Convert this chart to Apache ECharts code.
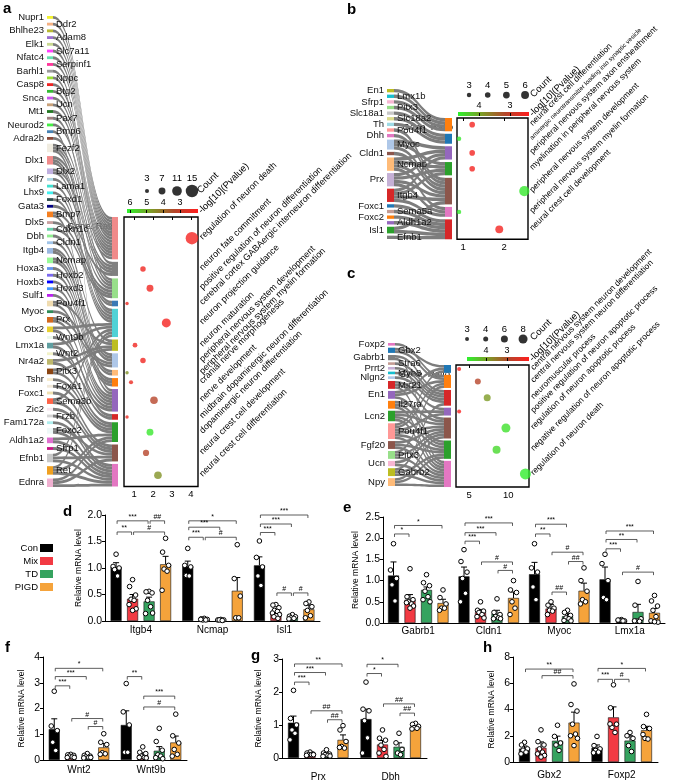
<!DOCTYPE html>
<html><head><meta charset="utf-8">
<script src="https://cdn.jsdelivr.net/npm/echarts@6/dist/echarts.min.js"></script>
<style>html,body{margin:0;padding:0;background:#fff}#c{width:685px;height:782px}</style>
</head><body><div id="c"></div>
<script>
const FONT = "'Liberation Sans', Arial, Helvetica, sans-serif";
const groups = ['Con', 'Mix', 'TD', 'PIGD'];
const groupColors = ['#000000', '#f23a43', '#35a35f', '#f5a33b'];
const heatColors = ['#ff1e1e', '#b4462b', '#7c9c26', '#2ef22e']; // low -> high -log10(P)

// ---------------- panel a ----------------
const aGenes = ['Nupr1','Ddr2','Bhlhe23','Adam8','Elk1','Slc7a11','Nfatc4','Serpinf1','Barhl1','Nppc','Casp8','Btg2','Snca','Ucn','Mt1','Pax7','Neurod2','Bmp6','Adra2b','Fezf2','Dlx1','Dlx2','Klf7','Lama1','Lhx9','Foxd1','Gata3','Bmp7','Dlx5','Cdkn1c','Dbh','Cldn1','Itgb4','Ncmap','Hoxa3','Hoxb2','Hoxb3','Hoxd3','Sulf1','Pou4f1','Myoc','Prx','Otx2','Wnt9b','Lmx1a','Wnt2','Nr4a2','Pitx3','Tshr','Foxa1','Foxc1','Sema3b','Zic2','Frzb','Fam172a','Foxc2','Aldh1a2','Sfrp1','Efnb1','Ret','Ednra'];
const aGeneTerms = [[1],[1],[1],[1],[1],[1],[1],[1],[2],[3],
  [1],[1],[1],[1],[1],[3],[1],[10],[1],[2,3,5],
  [2,4,5],[2,4],[3],[5],[5],[5],[2],[3,10],[3],[3],
  [6],[7],[7,8],[7,8],[9],[9],[9],[10],[10],[6,10],
  [7],[7,10],[5,11],[10],[5,11],[10],[6,12],[6,12],[12],[12],
  [13],[5,13],[13],[14],[14],[13,14],[12,14],[14],[5,13,14],[5,12,14],[12,13,14]];
const aTerms = ['regulation of neuron death','neuron fate commitment','positive regulation of neuron differentiation','cerebral cortex GABAergic interneuron differentiation','neuron projection guidance','neuron maturation','peripheral nervous system development','peripheral nervous system myelin formation','cranial nerve morphogenesis','nerve development','midbrain dopaminergic neuron differentiation','dopaminergic neuron differentiation','neural crest cell development','neural crest cell differentiation'];
const aCounts = [15, 5, 7, 2, 10, 4, 5, 2, 3, 8, 2, 7, 6, 8];
const aRatio = [4.05, 1.47, 1.84, 0.63, 2.7, 1.05, 1.47, 0.63, 0.84, 2.05, 0.63, 1.84, 1.63, 2.26];
const aLogP = [2.1, 2.2, 2.2, 2.3, 2.1, 2.2, 2.2, 4.6, 2.3, 3.3, 2.3, 6.0, 3.3, 4.6];
const aSizeTicks = [3, 7, 11, 15];
const aColorTicks = [3, 4, 5, 6];
const aXTicks = [1, 2, 3, 4];

// ---------------- panel b ----------------
const bGenes = ['En1','Lmx1b','Sfrp1','Pitx3','Slc18a1','Slc18a2','Th','Pou4f1','Dhh','Myoc','Cldn1','Ncmap','Prx','Itgb4','Foxc1','Sema5a','Foxc2','Aldh1a2','Isl1','Efnb1'];
const bGeneTerms = [[1],[1],[1],[1],[2],[2],[2],[5],[5],[3,4,5],[5],[3,4,5,6],[3,4,5,6],[3,4,5,6],[7],[7],[7],[7],[5,7],[7]];
const bTerms = ['neural crest cell differentiation','aminergic neurotransmitter loading into synaptic vesicle','peripheral nervous system axon ensheathment','myelination in peripheral nervous system','peripheral nervous system development','peripheral nervous system myelin formation','neural crest cell development'];
const bCounts = [4, 3, 4, 4, 8, 3, 6];
const bRatio = [1.22, 0.9, 1.22, 1.22, 2.49, 0.9, 1.88];
const bLogP = [2.5, 4.6, 2.5, 2.5, 4.6, 4.6, 2.5];
const bSizeTicks = [3, 4, 5, 6];
const bColorTicks = [3, 4];
const bXTicks = [1, 2];

// ---------------- panel c ----------------
const cGenes = ['Foxp2','Gbx2','Gabrb1','Stra6','Prrt2','Myh8','Nlgn2','Mir21','En1','Il27ra','Lcn2','Pou4f1','Fgf20','Pitx3','Ucn','Gabrb2','Npy'];
const cGeneTerms = [[2],[1,2],[3,7],[3],[3],[3],[3],[4,5,7],[1,2,6],[5,6,7],[4,5,6,7],[1,2,4,5,6,7],[5,6,7],[2,5,7],[5,7],[3,6,7],[5,6,7]];
const cTerms = ['central nervous system neuron development','central nervous system neuron differentiation','neuromuscular process','positive regulation of neuron apoptotic process','regulation of neuron apoptotic process','negative regulation of neuron apoptotic process','regulation of neuron death'];
const cCounts = [3, 5, 6, 3, 8, 7, 10];
const cRatio = [3.7, 6.1, 7.3, 3.7, 9.7, 8.5, 12.2];
const cLogP = [2.0, 2.9, 3.9, 2.0, 4.7, 4.6, 4.85];
const cSizeTicks = [3, 4, 6, 8];
const cColorTicks = [3, 4];
const cXTicks = [5, 10];

// ---------------- panel d ----------------
const dGenes = ['Itgb4', 'Ncmap', 'Isl1'];
const dMean = [[1.02, 1.03, 1.05], [0.42, 0.03, 0.17], [0.37, 0.02, 0.07], [1.07, 0.57, 0.22]];
const dSem = [[0.08, 0.1, 0.16], [0.08, 0.01, 0.03], [0.08, 0.01, 0.01], [0.15, 0.25, 0.08]];
const dPts = [
  [[1.26, 1.03, 1.0, 0.97, 0.85], [0.78, 0.65, 0.49, 0.41, 0.39, 0.31, 0.23, 0.2], [0.56, 0.55, 0.53, 0.39, 0.27, 0.14, 0.15], [1.56, 1.3, 1.05, 0.98, 0.94, 0.58]],
  [[1.37, 1.05, 1.02, 0.86, 0.85], [0.05, 0.04, 0.03, 0.02, 0.02, 0.03], [0.03, 0.02, 0.02, 0.02, 0.01], [1.44, 0.8, 0.47, 0.06, 0.06]],
  [[1.51, 1.2, 1.02, 0.85, 0.67], [0.31, 0.3, 0.25, 0.2, 0.18, 0.15, 0.12, 0.1, 0.08, 0.05], [0.12, 0.09, 0.08, 0.06, 0.05, 0.04], [0.36, 0.33, 0.27, 0.2, 0.1, 0.06]]
];
const dSig = [[0,0,2,1.89,'***'],[0,2,3,1.89,'##'],[0,0,1,1.68,'**'],[0,1,3,1.68,'#'],
  [1,0,3,1.89,'*'],[1,0,2,1.77,'***'],[1,0,1,1.58,'***'],[1,1,3,1.58,'#'],
  [2,0,3,2.0,'***'],[2,0,2,1.83,'***'],[2,0,1,1.67,'***'],[2,1,2,0.53,'#'],[2,2,3,0.53,'#']];

// ---------------- panel e ----------------
const eGenes = ['Gabrb1', 'Cldn1', 'Myoc', 'Lmx1a'];
const eMean = [[1.12, 1.10, 1.15, 1.03], [0.55, 0.26, 0.34, 0.06], [0.78, 0.22, 0.16, 0.26], [0.47, 0.59, 0.76, 0.24]];
const eSem = [[0.32, 0.22, 0.28, 0.29], [0.12, 0.06, 0.1, 0.01], [0.07, 0.08, 0.06, 0.18], [0.09, 0.14, 0.18, 0.1]];
const ePts = [
  [[1.87, 1.25, 1.05, 0.9, 0.52], [1.28, 0.62, 0.55, 0.5, 0.45, 0.48, 0.4, 0.35], [1.14, 0.95, 0.88, 0.75, 0.62, 0.55, 0.5], [0.78, 0.6, 0.45, 0.35, 0.35, 0.3]],
  [[1.73, 1.45, 1.2, 1.05, 0.7, 0.5], [0.5, 0.3, 0.28, 0.25, 0.2, 0.15, 0.12], [0.57, 0.25, 0.2, 0.15, 0.12, 0.1, 0.1], [1.0, 0.78, 0.72, 0.5, 0.35, 0.2]],
  [[1.87, 1.3, 1.2, 0.85, 0.55], [0.5, 0.42, 0.35, 0.3, 0.28, 0.2], [0.3, 0.25, 0.18, 0.12, 0.1, 0.06, 0.05], [1.3, 1.0, 0.75, 0.55, 0.5, 0.45]],
  [[1.62, 1.4, 1.0, 0.6, 0.55], [0.08, 0.06, 0.05, 0.06, 0.05, 0.07], [0.98, 0.42, 0.1, 0.05, 0.04, 0.05], [0.65, 0.52, 0.4, 0.3, 0.15, 0.05, 0.02, 0.03]]
];
const eSig = [[0,0,1,2.1,'*'],[0,0,3,2.3,'*'],
  [1,0,1,1.93,'***'],[1,0,2,2.13,'***'],[1,0,3,2.36,'***'],[1,1,3,1.44,'#'],[1,2,3,1.24,'#'],
  [2,0,2,2.33,'***'],[2,0,1,2.1,'**'],[2,1,3,1.67,'#'],[2,2,3,1.45,'##'],[2,1,2,0.73,'##'],
  [3,0,3,2.17,'***'],[3,0,2,1.97,'**'],[3,0,1,1.75,'***'],[3,1,3,1.2,'#']];

// ---------------- panel f ----------------
const fGenes = ['Wnt2', 'Wnt9b'];
const fMean = [[1.2, 1.36], [0.15, 0.2], [0.14, 0.36], [0.49, 0.68]];
const fSem = [[0.4, 0.55], [0.03, 0.08], [0.03, 0.16], [0.15, 0.25]];
const fPts = [
  [[2.67, 1.32, 1.14, 0.69, 0.37], [0.22, 0.2, 0.18, 0.15, 0.12, 0.1, 0.1], [0.25, 0.18, 0.15, 0.12, 0.1, 0.08, 0.1], [1.02, 0.69, 0.6, 0.28, 0.24, 0.22]],
  [[2.97, 1.87, 1.36, 0.3, 0.3], [0.51, 0.3, 0.25, 0.15, 0.1, 0.1, 0.08], [1.23, 0.72, 0.38, 0.2, 0.15, 0.09, 0.05], [1.78, 0.94, 0.66, 0.41, 0.22, 0.15]]
];
const fSig = [[0,0,3,3.56,'*'],[0,0,2,3.24,'***'],[0,0,1,2.88,'***'],[0,1,3,1.61,'#'],[0,2,3,1.3,'#'],
  [1,0,1,3.24,'**'],[1,1,3,2.48,'***'],[1,1,3,2.06,'#']];

// ---------------- panel g ----------------
const gGenes = ['Prx', 'Dbh'];
const gMean = [[1.07, 1.18], [0.12, 0.41], [0.12, 0.34], [0.55, 0.95]];
const gSem = [[0.2, 0.3], [0.02, 0.12], [0.03, 0.12], [0.15, 0.05]];
const gPts = [
  [[2.05, 1.2, 1.0, 0.85, 0.75, 0.55], [0.18, 0.15, 0.12, 0.1, 0.1, 0.08, 0.1], [0.25, 0.15, 0.12, 0.1, 0.08, 0.05, 0.06], [0.98, 0.85, 0.5, 0.35, 0.3, 0.32]],
  [[2.3, 1.48, 1.43, 1.13, 0.61, 0.15], [0.85, 0.6, 0.54, 0.39, 0.26, 0.15, 0.05], [0.75, 0.46, 0.26, 0.15, 0.1], [1.05, 1.02, 0.96, 0.92, 0.9, 0.88]]
];
const gSig = [[0,0,3,2.85,'**'],[0,0,2,2.59,'***'],[0,0,1,2.3,'***'],[0,1,3,1.43,'##'],[0,2,3,1.16,'##'],
  [1,0,2,2.84,'*'],[1,0,1,2.56,'*'],[1,1,3,1.64,'##'],[1,2,3,1.36,'##']];

// ---------------- panel h ----------------
const hGenes = ['Gbx2', 'Foxp2'];
const hMean = [[1.02, 1.08], [1.08, 3.4], [1.62, 1.63], [3.0, 2.42]];
const hSem = [[0.2, 0.22], [0.45, 0.8], [0.35, 0.37], [0.8, 0.3]];
const hPts = [
  [[1.5, 1.3, 1.0, 0.9, 0.75, 0.62], [2.45, 1.55, 1.3, 1.0, 0.75, 0.62, 0.5, 0.38], [2.8, 1.95, 1.45, 1.3, 0.88], [5.95, 4.38, 3.88, 2.88, 2.13, 2.0, 1.8, 1.25]],
  [[1.95, 1.25, 1.0, 0.88, 0.75, 0.7], [5.88, 4.13, 2.88, 2.63, 2.25, 2.9], [2.25, 2.0, 1.8, 1.25, 0.8], [3.63, 2.7, 2.55, 1.8, 1.75, 2.1]]
];
const hSig = [[0,0,3,7.08,'**'],[0,1,3,6.58,'##'],[1,0,3,7.13,'*'],[1,0,1,6.3,'***'],[1,1,2,6.3,'#']];

// ---------------- styles (colours of nodes) ----------------
const aGeneColors = ['#f2f230','#f4b183','#b8b830','#9b70d0','#c8d890','#ff40ff','#66e0b0','#ff3399','#9a9a9a','#99dd33',
 '#ee2222','#33bb33','#cc55ee','#c8a078','#227722','#a08080','#44ee44','#4682b4','#8b4a3a','#f0ece0',
 '#f08a8a','#c0b0e0','#add8e6','#40e0d0','#40f0f0','#2f4f4f','#000080','#f57f20','#c9a0a0','#66cdaa',
 '#90ee90','#a0c4e8','#9ab8e0','#98fb98','#6495ed','#7b68ee','#0000ff','#4499ff','#bb22ee','#f0dcb0',
 '#2e8b57','#d2691e','#e8d030','#eaf8ea','#5f9ea0','#f2f2c8','#bdb76b','#8b4513','#f8eccc','#f0e8d8',
 '#f0e0b0','#ff6347','#f8e8f0','#d3d3d3','#afeeee','#eef8f8','#e070d0','#c71585','#c8c8c8','#f0a020','#f0b0d0'];
const aTermColors = ['#f08a8a','#808080','#98df8a','#3a78b5','#50d2d6','#bcbd22','#aec7e8','#ffbb78','#ff7f0e','#9467bd','#d62728','#2ca02c','#8c564b','#e377c2'];
const bGeneColors = ['#bcbd22','#17becf','#f7b6d2','#98df8a','#c7c7c7','#dbdb8d','#9edae5','#ff9896','#e377c2','#aec7e8','#8c564b','#ffbb78','#c5b0d5','#d62728','#1f77b4','#c49c94','#ff7f0e','#9467bd','#2ca02c','#7f7f7f'];
const bTermColors = ['#ff7f0e','#1f77b4','#9467bd','#2ca02c','#8c564b','#e377c2','#d62728'];
const cGeneColors = ['#e377c2','#1f77b4','#7f7f7f','#c49c94','#c5b0d5','#17becf','#aec7e8','#d62728','#9467bd','#ff7f0e','#2ca02c','#ff9896','#8c564b','#98df8a','#f7b6d2','#bcbd22','#ffbb78'];
const cTermColors = ['#1f77b4','#ff7f0e','#d62728','#9467bd','#8c564b','#2ca02c','#e377c2'];

// ================= build =================
const grids = [], xAxes = [], yAxes = [], series = [], visualMaps = [];
function addGrid(g, x, y) {
  grids.push(g); const i = grids.length - 1;
  x.gridIndex = i; y.gridIndex = i; xAxes.push(x); yAxes.push(y); return i;
}
const dotInfo = [];

function dotPanel(P) {
  const nL = P.genes.length, nR = P.terms.length;
  const sum = P.counts.reduce((a, b) => a + b, 0);
  const sk = P.sk;
  const ky = Math.min((sk.height - (nL - 1) * sk.gap) / sum, (sk.height - (nR - 1) * sk.gap) / sum);
  const gU = sk.rGap / ky;
  const centers = []; let acc = 0;
  P.counts.forEach(c => { centers.push(acc + c / 2); acc += c + gU; });
  const yMax = acc - gU;
  const nodes = P.genes.map((g, i) => ({ name: g, itemStyle: { color: P.geneColors[i] },
    label: { position: i % 2 ? 'right' : 'left' } }));
  P.terms.forEach((t, i) => nodes.push({ name: t,
    localY: (sk.rTop - sk.top + (centers[i] - P.counts[i] / 2) * ky) / sk.height,
    itemStyle: { color: P.termColors[i] }, label: { show: false } }));
  const links = [];
  P.genes.forEach((g, i) => P.geneTerms[i].forEach(ti => links.push({ source: g, target: P.terms[ti - 1], value: 1 })));
  series.push({ type: 'sankey', left: sk.left, top: sk.top, width: sk.width, height: sk.height,
    nodeWidth: sk.nodeWidth, nodeGap: sk.gap, layoutIterations: 0, draggable: false, silent: true,
    data: nodes, links: links,
    itemStyle: { borderWidth: 0 },
    lineStyle: { color: '#7d7d7d', opacity: 1, curveness: 0.5 },
    label: { show: true, fontSize: 9.5, color: '#111', fontFamily: FONT, distance: 3 },
    emphasis: { disabled: true } });
  // dot grid
  const D = P.dot;
  const gi = addGrid({ left: D.left, top: sk.rTop, width: D.width, height: yMax * ky, show: true,
      borderColor: '#000', borderWidth: 1.4, backgroundColor: '#fff' },
    { type: 'value', min: D.xmin, max: D.xmax, splitLine: { show: false }, axisLine: { show: false },
      axisTick: { show: true, customValues: P.xTicks, length: 3, lineStyle: { color: '#000' } },
      axisLabel: { customValues: P.xTicks, fontSize: 9.5, color: '#000', margin: 3 },
      name: 'Gene. Ratio', nameLocation: 'start', nameGap: D.nameGap,
      nameTextStyle: { fontSize: 9.5, color: '#000', verticalAlign: 'top', padding: [4, 0, 0, 0] } },
    { type: 'value', inverse: true, min: 0, max: yMax, show: false });
  series.push({ type: 'scatter', xAxisIndex: gi, yAxisIndex: gi, silent: true,
    data: P.ratio.map((r, i) => [r, centers[i], P.counts[i], P.logp[i]]),
    symbolSize: v => P.sizeFn(v[2]) });
  visualMaps.push({ type: 'continuous', show: false, seriesIndex: series.length - 1, dimension: 3,
    min: P.cb.min, max: P.cb.max, inRange: { color: heatColors } });
  // size legend
  const L = P.leg;
  const li = addGrid({ left: L.left, top: L.top, width: L.width, height: L.height },
    { type: 'category', position: 'top', data: P.sizeTicks.map(String), axisLine: { show: false }, axisTick: { show: false },
      axisLabel: { fontSize: 9.5, color: '#000', margin: L.margin } },
    { type: 'value', min: -1, max: 1, show: false });
  series.push({ type: 'scatter', xAxisIndex: li, yAxisIndex: li, silent: true, itemStyle: { color: '#000' },
    data: P.sizeTicks.map((s, i) => [i, 0, s]), symbolSize: v => P.sizeFn(v[2]) });
  // colour bar
  const C = P.cb;
  const stops = heatColors.slice().reverse().map((c, i, arr) => ({ offset: i / (arr.length - 1), color: c }));
  addGrid({ left: C.left, top: C.top, width: C.width, height: 4, show: true, borderWidth: 0,
      backgroundColor: new echarts.graphic.LinearGradient(0, 0, 1, 0, stops) },
    { type: 'value', inverse: true, position: 'top', min: C.min, max: C.max, splitLine: { show: false },
      axisLine: { show: false },
      axisTick: { show: true, customValues: P.colorTicks, length: 3, lineStyle: { color: '#000' } },
      axisLabel: { customValues: P.colorTicks, fontSize: 9, color: '#000', margin: 2 } },
    { type: 'value', min: 0, max: 1, show: false });
  dotInfo.push({ gi, centers, terms: P.terms, xmax: D.xmax, termFont: P.termFont, small: P.small || {} ,
    countAt: P.countAt, logAt: P.logAt });
}

dotPanel({ genes: aGenes, geneTerms: aGeneTerms, terms: aTerms, counts: aCounts, ratio: aRatio, logp: aLogP,
  sizeTicks: aSizeTicks, colorTicks: aColorTicks, xTicks: aXTicks, geneColors: aGeneColors, termColors: aTermColors,
  sk: { left: 47, top: 16, width: 71, height: 471, nodeWidth: 6, gap: 3.9, rTop: 217, rGap: 2.5 },
  dot: { left: 124, width: 74, xmin: 0.47, xmax: 4.37, nameGap: 6 },
  sizeFn: c => 2 + 0.7 * c,
  leg: { left: 139.5, top: 185, width: 60, height: 12, margin: 2 },
  cb: { left: 127, top: 209, width: 71, min: 1.92, max: 6.18 },
  termFont: 9, countAt: [199, 192], logAt: [200, 212] });
dotPanel({ genes: bGenes, geneTerms: bGeneTerms, terms: bTerms, counts: bCounts, ratio: bRatio, logp: bLogP,
  sizeTicks: bSizeTicks, colorTicks: bColorTicks, xTicks: bXTicks, geneColors: bGeneColors, termColors: bTermColors,
  sk: { left: 387, top: 89, width: 65, height: 150, nodeWidth: 7, gap: 2.3, rTop: 118, rGap: 2.5 },
  dot: { left: 457, width: 71, xmin: 0.85, xmax: 2.58, nameGap: 4 },
  sizeFn: c => 1 + 1.15 * c,
  leg: { left: 459.7, top: 91, width: 74.7, height: 8, margin: 1 },
  cb: { left: 458, top: 112, width: 71, min: 2.39, max: 4.68 },
  termFont: 8.5, small: { 1: 6.3 }, countAt: [532, 96], logAt: [531, 115] });
dotPanel({ genes: cGenes, geneTerms: cGeneTerms, terms: cTerms, counts: cCounts, ratio: cRatio, logp: cLogP,
  sizeTicks: cSizeTicks, colorTicks: cColorTicks, xTicks: cXTicks, geneColors: cGeneColors, termColors: cTermColors,
  sk: { left: 388, top: 343, width: 63, height: 143, nodeWidth: 7, gap: 2.06, rTop: 365, rGap: 2 },
  dot: { left: 456, width: 73, xmin: 3.3, xmax: 12.66, nameGap: 6 },
  sizeFn: c => 1 + 1.0 * c,
  leg: { left: 457.7, top: 335, width: 74.7, height: 8, margin: 1 },
  cb: { left: 467, top: 357, width: 62, min: 1.95, max: 4.9 },
  termFont: 8.5, countAt: [532, 339], logAt: [531, 360] });

// ---------------- bar panels ----------------
const BW = 11, SP = 16.5;
const JIT = [0, -3, 3, -1.5, 1.5, -3.5, 3.5, 0, -2, 2];
function barPanel(B) {
  const gi = addGrid({ left: B.box[0], top: B.box[1], width: B.box[2], height: B.box[3] },
    { type: 'category', data: B.cats, axisLine: { lineStyle: { color: '#000', width: 1 } },
      axisTick: { alignWithLabel: true, length: 3, lineStyle: { color: '#000' } },
      axisLabel: { color: '#000', fontSize: 10, margin: B.margin } },
    { type: 'value', min: 0, max: B.yMax, interval: B.yInt, splitLine: { show: false },
      axisLine: { show: true, lineStyle: { color: '#000' } }, axisTick: { show: true, length: 3, lineStyle: { color: '#000' } },
      axisLabel: { color: '#000', fontSize: 10.5, margin: 3, formatter: v => v.toFixed(B.dec) },
      name: 'Relative mRNA level', nameLocation: 'middle', nameGap: B.nameGap,
      nameTextStyle: { fontSize: 8.5, color: '#000' } });
  groups.forEach((g, k) => series.push({ type: 'bar', name: g, xAxisIndex: gi, yAxisIndex: gi, data: B.mean[k],
    barWidth: BW, barGap: '50%', silent: true, z: 2,
    itemStyle: { color: groupColors[k], borderColor: '#111', borderWidth: 0.6 } }));
  const errData = [];
  B.mean.forEach((row, k) => row.forEach((m, c) => errData.push([c, m, B.sem[k][c], k])));
  series.push({ type: 'custom', xAxisIndex: gi, yAxisIndex: gi, silent: true, z: 3, data: errData,
    renderItem: (p, api) => {
      const c = api.value(0), m = api.value(1), s = api.value(2), k = api.value(3);
      const p0 = api.coord([c, m]), p1 = api.coord([c, m + s]);
      const x = p0[0] + (k - 1.5) * SP;
      return { type: 'group', children: [
        { type: 'line', shape: { x1: x, y1: p0[1], x2: x, y2: p1[1] }, style: { stroke: '#000', lineWidth: 1 } },
        { type: 'line', shape: { x1: x - 3, y1: p1[1], x2: x + 3, y2: p1[1] }, style: { stroke: '#000', lineWidth: 1 } } ] };
    } });
  const ptData = [];
  B.pts.forEach((row, c) => row.forEach((list, k) => list.forEach((v, j) => ptData.push([c, v, k, j]))));
  series.push({ type: 'custom', xAxisIndex: gi, yAxisIndex: gi, silent: true, z: 4, data: ptData,
    renderItem: (p, api) => {
      const c = api.value(0), v = api.value(1), k = api.value(2), j = api.value(3);
      const pt = api.coord([c, v]);
      return { type: 'circle', shape: { cx: pt[0] + (k - 1.5) * SP + JIT[j % JIT.length], cy: pt[1], r: 2.3 },
        style: { fill: '#fff', stroke: '#000', lineWidth: 1 } };
    } });
  const sig = B.sig;
  series.push({ type: 'custom', xAxisIndex: gi, yAxisIndex: gi, silent: true, z: 4,
    data: sig.map(s => [s[0], s[1], s[2], s[3]]),
    renderItem: (p, api) => {
      const c = api.value(0), g1 = api.value(1), g2 = api.value(2), y = api.value(3);
      const pt = api.coord([c, y]);
      const x1 = pt[0] + (g1 - 1.5) * SP + 1, x2 = pt[0] + (g2 - 1.5) * SP - 1;
      return { type: 'group', children: [
        { type: 'polyline', shape: { points: [[x1, pt[1] + 3], [x1, pt[1]], [x2, pt[1]], [x2, pt[1] + 3]] },
          style: { stroke: '#333', lineWidth: 0.8, fill: null } },
        { type: 'text', style: { text: sig[p.dataIndex][4], x: (x1 + x2) / 2, y: pt[1] - 0.3, align: 'center',
          verticalAlign: 'bottom', fontSize: 7, fill: '#000', fontFamily: FONT } } ] };
    } });
}
barPanel({ cats: dGenes, mean: dMean, sem: dSem, pts: dPts, sig: dSig, box: [105, 515, 215, 106], yMax: 2, yInt: 0.5, dec: 1, margin: 4, nameGap: 21 });
barPanel({ cats: eGenes, mean: eMean, sem: eSem, pts: ePts, sig: eSig, box: [383, 517, 282, 106], yMax: 2.5, yInt: 0.5, dec: 1, margin: 3, nameGap: 23 });
barPanel({ cats: fGenes, mean: fMean, sem: fSem, pts: fPts, sig: fSig, box: [43, 657, 144, 103], yMax: 4, yInt: 1, dec: 0, margin: 5, nameGap: 17 });
barPanel({ cats: gGenes, mean: gMean, sem: gSem, pts: gPts, sig: gSig, box: [282, 659, 145, 99], yMax: 3, yInt: 1, dec: 0, margin: 14, nameGap: 19 });
barPanel({ cats: hGenes, mean: hMean, sem: hSem, pts: hPts, sig: hSig, box: [513, 657, 145, 105], yMax: 8, yInt: 2, dec: 0, margin: 8, nameGap: 17 });

const chart = echarts.init(document.getElementById('c'), null, { renderer: 'canvas', width: 685, height: 782 });
chart.setOption({
  animation: false,
  backgroundColor: '#fff',
  textStyle: { fontFamily: FONT },
  grid: grids, xAxis: xAxes, yAxis: yAxes, visualMap: visualMaps, series: series
});

// ---------------- texts ----------------
const gfx = [];
function txt(t, x, y, o) {
  gfx.push(Object.assign({ type: 'text', x: x, y: y, silent: true,
    style: Object.assign({ text: t, fill: '#000', fontFamily: FONT, fontSize: 9.5, align: 'left', verticalAlign: 'middle' }, (o && o.style) || {}) },
    o && o.rotation != null ? { rotation: o.rotation } : {}));
}
const R45 = Math.PI / 4;
[['a', 3, 1], ['b', 347, 2], ['c', 347, 266], ['d', 63, 504], ['e', 343, 500], ['f', 5, 640], ['g', 251, 648], ['h', 483, 640]]
  .forEach(l => txt(l[0], l[1], l[2], { style: { fontSize: 15, fontWeight: 'bold', verticalAlign: 'top' } }));
dotInfo.forEach(di => {
  di.terms.forEach((t, i) => {
    const p = chart.convertToPixel({ gridIndex: di.gi }, [di.xmax, di.centers[i]]);
    txt(t, p[0] + 3, p[1], { rotation: R45, style: { fontSize: di.small[i] || di.termFont } });
  });
  txt('Count', di.countAt[0], di.countAt[1], { rotation: R45, style: { fontSize: 9.5 } });
  txt('-log[10](Pvalue)', di.logAt[0], di.logAt[1], { rotation: R45, style: { fontSize: 9.5 } });
});
// legend of panel d
groups.forEach((g, k) => {
  const y = 548 + k * 13;
  txt(g, 38, y, { style: { align: 'right', fontSize: 9.5 } });
  gfx.push({ type: 'rect', shape: { x: 40, y: y - 4, width: 13, height: 8 }, style: { fill: groupColors[k] }, silent: true });
});
chart.setOption({ graphic: gfx });
</script></body></html>
